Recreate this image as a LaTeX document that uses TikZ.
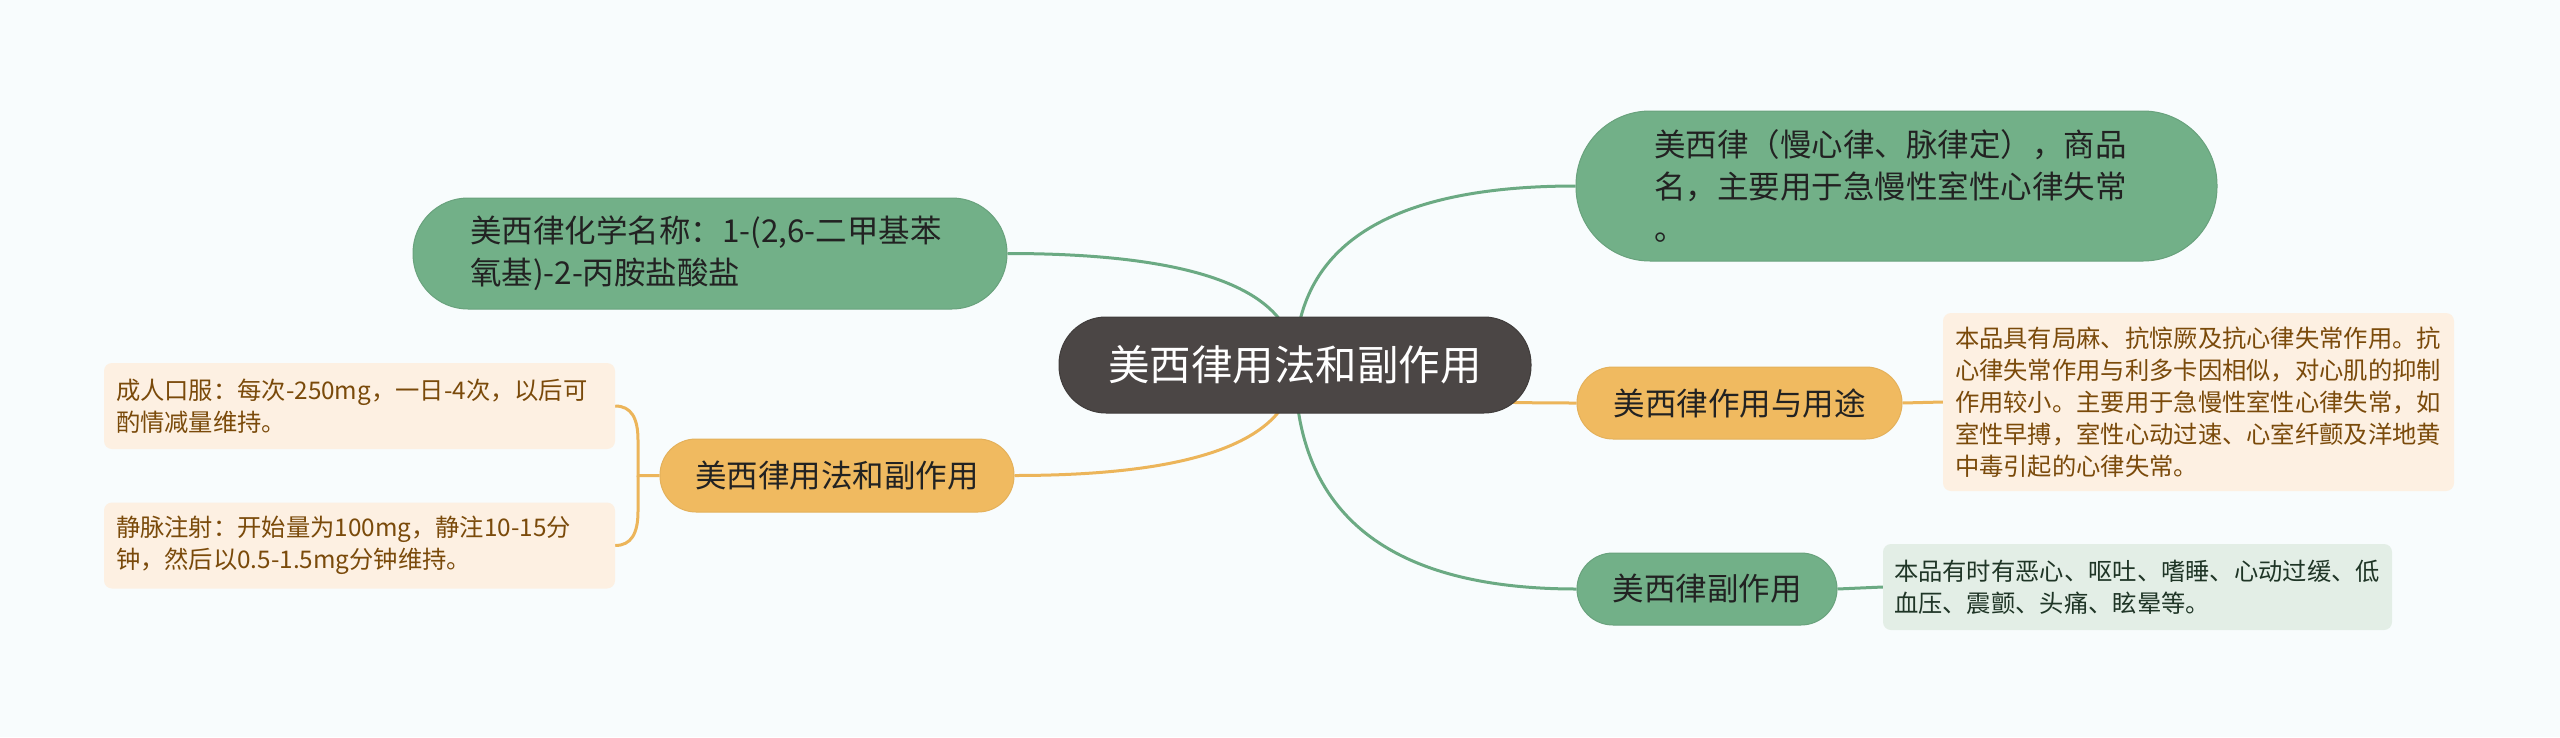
\documentclass[tikz,border=0pt]{standalone}
\usepackage{fontspec}
\setmainfont{Noto Sans CJK SC}
\usetikzlibrary{calc,backgrounds}
\definecolor{bgc}{HTML}{F8FCFD}
\definecolor{centerc}{HTML}{4B4645}
\definecolor{greenc}{HTML}{72B088}
\definecolor{greenl}{HTML}{6BAA83}
\definecolor{orangec}{HTML}{F0BA60}
\definecolor{orangel}{HTML}{ECB55A}
\definecolor{odfill}{HTML}{FDF0E2}
\definecolor{odtext}{HTML}{7A4A0A}
\definecolor{gdfill}{HTML}{E3EEE6}
\definecolor{gdtext}{HTML}{1F3526}
\definecolor{darktext}{HTML}{222222}
\tikzset{
  centerbox/.style={fill=centerc, draw=centerc!85!black, line width=1pt, rounded corners=47pt,
    minimum width=472pt, minimum height=96pt, inner sep=0pt, text=white,
    font=\fontsize{41.5}{50}\selectfont},
  mainbox/.style={inner ysep=0pt, inner xsep=0pt, text=darktext, align=left,
    font=\fontsize{31.5}{42}\selectfont},
  greenbox/.style={fill=greenc, draw=greenc!92!black, line width=1pt},
  orangebox/.style={fill=orangec, draw=orangec!95!black, line width=1pt},
  detailbox/.style={rounded corners=8pt, inner ysep=0pt, align=left,
    font=\fontsize{24.3}{32}\selectfont},
  gline/.style={draw=greenl, line width=3pt},
  oline/.style={draw=orangel, line width=3pt},
}
\begin{document}
\begin{tikzpicture}[x=1pt,y=-1pt]
\useasboundingbox (0,0) rectangle (2560,737);

\node[centerbox] (c) at (1295,365) {美西律用法和副作用};

\node[mainbox, greenbox, text width=485pt, inner xsep=78pt, minimum height=150pt, rounded corners=74pt] (tr) at (1896.5,186)
  {美西律（慢心律、脉律定），商品\\名，主要用于急慢性室性心律失常\\。};
\node[mainbox, greenbox, text width=480pt, inner xsep=57pt, minimum height=111pt, rounded corners=55pt] (tl) at (710,253.5)
  {美西律化学名称：1-(2,6-二甲基苯\\氧基)-2-丙胺盐酸盐};
\node[mainbox, orangebox, minimum width=325pt, minimum height=72pt, rounded corners=36pt] (or) at (1739.5,403) {美西律作用与用途};
\node[mainbox, orangebox, minimum width=354pt, minimum height=73pt, rounded corners=36pt] (ol) at (837,475.5) {美西律用法和副作用};
\node[mainbox, greenbox, minimum width=260pt, minimum height=72pt, rounded corners=36pt] (gs) at (1707,589) {美西律副作用};

\node[detailbox, fill=odfill, text=odtext, text width=487pt, inner xsep=12pt, minimum height=178pt] (ord) at (2198.5,402)
  {本品具有局麻、抗惊厥及抗心律失常作用。抗\\心律失常作用与利多卡因相似，对心肌的抑制\\作用较小。主要用于急慢性室性心律失常，如\\室性早搏，室性心动过速、心室纤颤及洋地黄\\中毒引起的心律失常。};
\node[detailbox, fill=gdfill, text=gdtext, text width=487pt, inner xsep=11pt, minimum height=86pt] (gd) at (2137.5,587)
  {本品有时有恶心、呕吐、嗜睡、心动过缓、低\\血压、震颤、头痛、眩晕等。};
\node[detailbox, fill=odfill, text=odtext, text width=487pt, inner xsep=12pt, minimum height=86pt] (ld1) at (359.5,406)
  {成人口服：每次-250mg，一日-4次，以后可\\酌情减量维持。};
\node[detailbox, fill=odfill, text=odtext, text width=487pt, inner xsep=12pt, minimum height=86pt] (ld2) at (359.5,545.5)
  {静脉注射：开始量为100mg，静注10-15分\\钟，然后以0.5-1.5mg分钟维持。};

\coordinate (k1) at (c.center |- tr.west);
\coordinate (k2) at (c.center |- tl.east);
\coordinate (k3) at (c.center |- or.west);
\coordinate (k4) at (c.center |- ol.east);
\coordinate (k5) at (c.center |- gs.west);
\coordinate (bj) at (638,475.5);

\begin{pgfonlayer}{background}
  \fill[bgc] (0,0) rectangle (2560,737);
  \draw[gline] (c.center) .. controls ($(c.center)!2/3!(k1)$) and ($(tr.west)!2/3!(k1)$) .. (tr.west);
  \draw[gline] (c.center) .. controls ($(c.center)!2/3!(k2)$) and ($(tl.east)!2/3!(k2)$) .. (tl.east);
  \draw[oline] (c.center) .. controls ($(c.center)!2/3!(k3)$) and ($(or.west)!2/3!(k3)$) .. (or.west);
  \draw[oline] (c.center) .. controls ($(c.center)!2/3!(k4)$) and ($(ol.east)!2/3!(k4)$) .. (ol.east);
  \draw[gline] (c.center) .. controls ($(c.center)!2/3!(k5)$) and ($(gs.west)!2/3!(k5)$) .. (gs.west);
  \draw[oline] (or.east) -- (ord.west);
  \draw[gline] (gs.east) -- (gd.west);
  \draw[oline] (ld1.east) .. controls +(16,0) and +(0,-22) .. ($(bj |- ld1.east)+(0,34)$) -- (bj) -- (ol.west);
  \draw[oline] (ld2.east) .. controls +(16,0) and +(0,22) .. ($(bj |- ld2.east)+(0,-34)$) -- (bj);
\end{pgfonlayer}
\end{tikzpicture}
\end{document}
